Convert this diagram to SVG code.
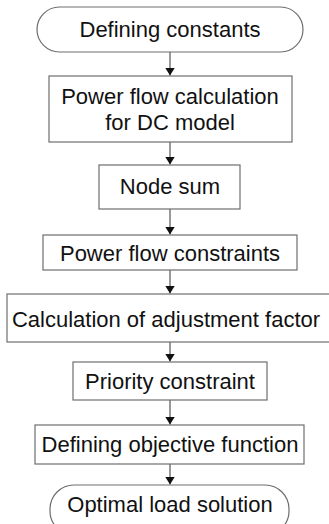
<svg xmlns="http://www.w3.org/2000/svg" width="329" height="524" viewBox="0 0 329 524">
<defs>
<style>
.n{fill:#fff;stroke:#6e6e6e;stroke-width:1.2}
.t{font-family:"Liberation Sans",Arial,sans-serif;font-size:22px;fill:#111;text-anchor:middle}
.c{stroke:#555;stroke-width:1.2;fill:none}
</style>
<marker id="ah" markerWidth="8" markerHeight="10" refX="8" refY="5" orient="auto" markerUnits="userSpaceOnUse">
<path d="M0,0 L8,5 L0,10 Z" fill="#111"/>
</marker>
</defs>
<rect width="329" height="524" fill="#fff"/>
<g id="connectors">
<line class="c" x1="170" y1="52" x2="170" y2="75.5" marker-end="url(#ah)"/>
<line class="c" x1="170" y1="142" x2="170" y2="164.5" marker-end="url(#ah)"/>
<line class="c" x1="170" y1="209" x2="170" y2="234.5" marker-end="url(#ah)"/>
<line class="c" x1="170" y1="270" x2="170" y2="293.5" marker-end="url(#ah)"/>
<line class="c" x1="170" y1="342" x2="170" y2="361.5" marker-end="url(#ah)"/>
<line class="c" x1="170" y1="400" x2="170" y2="424.5" marker-end="url(#ah)"/>
<line class="c" x1="170" y1="464" x2="170" y2="484.5" marker-end="url(#ah)"/>
</g>
<g id="n1"><rect class="n" x="37" y="7" width="266" height="45" rx="22.5"/><text class="t" x="170" y="37">Defining constants</text></g>
<g id="n2"><rect class="n" x="49" y="76" width="243" height="66"/><text class="t" x="170" y="104">Power flow calculation</text><text class="t" x="170" y="130">for DC model</text></g>
<g id="n3"><rect class="n" x="99" y="165" width="141" height="44"/><text class="t" x="170" y="194">Node sum</text></g>
<g id="n4"><rect class="n" x="43" y="235" width="254" height="35"/><text class="t" x="170" y="261">Power flow constraints</text></g>
<g id="n5"><rect class="n" x="7" y="294" width="330" height="48"/><text class="t" x="166" y="327">Calculation of adjustment factor</text></g>
<g id="n6"><rect class="n" x="73" y="362" width="194" height="38"/><text class="t" x="170" y="389">Priority constraint</text></g>
<g id="n7"><rect class="n" x="35" y="425" width="269" height="39"/><text class="t" x="170" y="452">Defining objective function</text></g>
<g id="n8"><rect class="n" x="50" y="485" width="239" height="50" rx="24"/><text class="t" x="170" y="512">Optimal load solution</text></g>
</svg>
